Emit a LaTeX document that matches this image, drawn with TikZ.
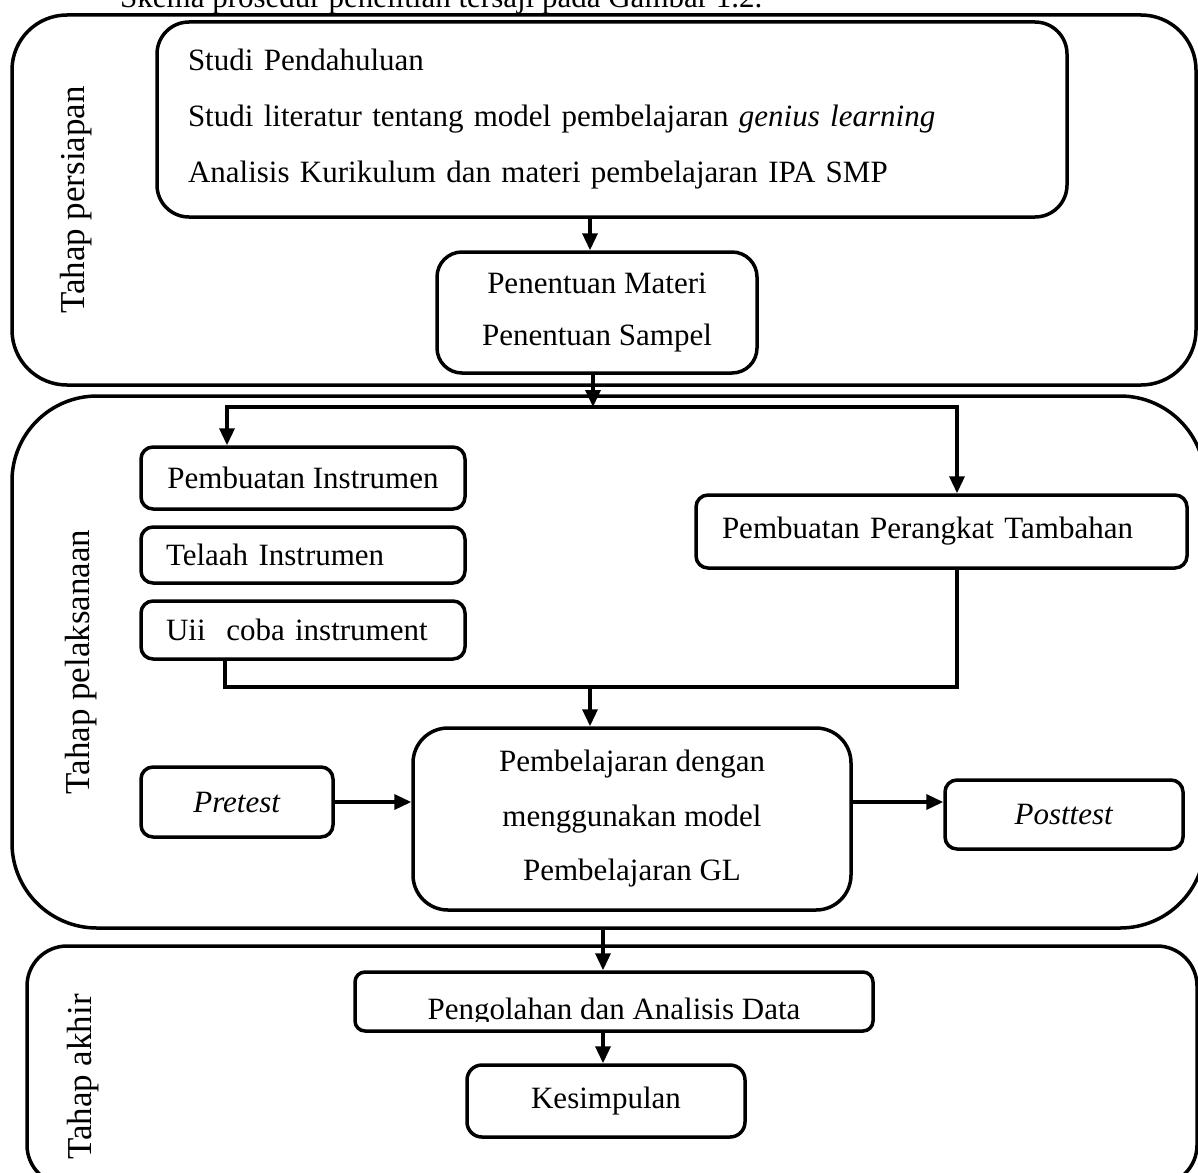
\documentclass[tikz,border=0pt]{standalone}
\usepackage{fontspec}
\setmainfont{Liberation Serif}
\usetikzlibrary{arrows.meta}
\begin{document}
\begin{tikzpicture}[x=1pt,y=-1pt,
  every node/.style={font=\fontsize{31}{56}\selectfont},
  stage/.style={draw, line width=3.5pt, inner sep=0pt},
  box/.style={draw, line width=3.5pt, inner sep=0pt, fill=white},
  lbl/.style={rotate=90, inner sep=0pt, font=\fontsize{35}{40}\selectfont},
  conn/.style={line width=3.5pt},
  arr/.style={line width=3.5pt, -{Triangle[length=17pt,width=15pt]}},
]
\useasboundingbox (0,0) rectangle (1198,1172);

% caption (cut off at top, as in the reference)
\node[anchor=base west, inner sep=0pt] (cap) at (120,8) {Skema prosedur penelitian tersaji pada Gambar 1.2.};

% stages
\node[stage, rounded corners=55pt, minimum width=1184, minimum height=370] (S1) at (604,200) {};
\node[stage, rounded corners=85pt, minimum width=1193, minimum height=532] (S2) at (608.5,662) {};
\node[stage, rounded corners=40pt, minimum width=1170, minimum height=239] (S3) at (612,1065.5) {};

\node[lbl] (L1) at (76,200) {Tahap persiapan};
\node[lbl] (L2) at (81,662) {Tahap pelaksanaan};
\node[lbl] (L3) at (83,1077) {Tahap akhir};

% boxes
\node[box, rounded corners=32pt, minimum width=910, minimum height=195, text width=848, inner xsep=31pt, align=left] (A) at (612,119.5)
  {Studi Pendahuluan\\ Studi literatur tentang model pembelajaran \textit{genius learning}\\ Analisis Kurikulum dan materi pembelajaran IPA SMP};
\node[box, rounded corners=25pt, minimum width=320, minimum height=121, align=center, font=\fontsize{31}{52}\selectfont] (B) at (597,312.5)
  {Penentuan Materi\\ Penentuan Sampel};

\node[box, rounded corners=12pt, minimum width=324, minimum height=62] (PI) at (303,478) {Pembuatan Instrumen};
\node[box, rounded corners=12pt, minimum width=324, minimum height=56, text width=274, inner xsep=25pt, align=left] (TI) at (303,555) {Telaah Instrumen};
\node[box, rounded corners=12pt, minimum width=324, minimum height=58, text width=274, inner xsep=25pt, align=left] (UJ) at (303,630) {Uii~ coba instrument};
\node[box, rounded corners=12pt, minimum width=491, minimum height=73, text width=439, inner xsep=26pt, align=left] (PT) at (941.5,531.5) {Pembuatan Perangkat Tambahan};

\node[box, rounded corners=12pt, minimum width=192, minimum height=70] (PR) at (237,802) {\textit{Pretest}};
\node[box, rounded corners=35pt, minimum width=438, minimum height=182, align=center, font=\fontsize{31}{54.5}\selectfont] (C) at (632,819)
  {Pembelajaran dengan\\ menggunakan model\\ Pembelajaran GL};
\node[box, rounded corners=12pt, minimum width=238, minimum height=69] (PO) at (1064,814.5) {\textit{Posttest}};

\node[box, rounded corners=10pt, minimum width=518, minimum height=59] (PD) at (614,1001.5) {};
\begin{scope}
  \clip (355,960) rectangle (873,1021);
  \node[anchor=base, inner sep=0pt] (PDt) at (614,1019) {Pengolahan dan Analisis Data};
\end{scope}
\node[box, rounded corners=15pt, minimum width=278, minimum height=72] (KS) at (606,1101) {Kesimpulan};

% connectors
\coordinate (a1) at (590,217);
\draw[arr] (A.south -| a1) -- (B.north -| a1);

\coordinate (brL) at (227,407);
\coordinate (brR) at (957,407);
\coordinate (brM) at (593,407);
\draw[arr] (B.south -| brM) -- (brM);
\draw[conn, line cap=rect] (brL) -- (brR);
\draw[arr] (brL) -- (PI.north -| brL);
\draw[arr] (brR) -- (PT.north -| brR);

\coordinate (mL) at (225,687);
\coordinate (mR) at (957,687);
\coordinate (mC) at (590,687);
\draw[conn, line join=miter] (UJ.south -| mL) -- (mL) -- (mR) -- (PT.south -| mR);
\draw[arr] (mC) -- (C.north -| mC);

\draw[arr] (PR.east) -- (PR.east -| C.west);
\draw[arr] (C.east |- PR.east) -- (PO.west |- PR.east);

\coordinate (c3) at (603,928);
\draw[arr] (c3) -- (PD.north -| c3);
\draw[arr] (PD.south -| c3) -- (KS.north -| c3);
\end{tikzpicture}
\end{document}
